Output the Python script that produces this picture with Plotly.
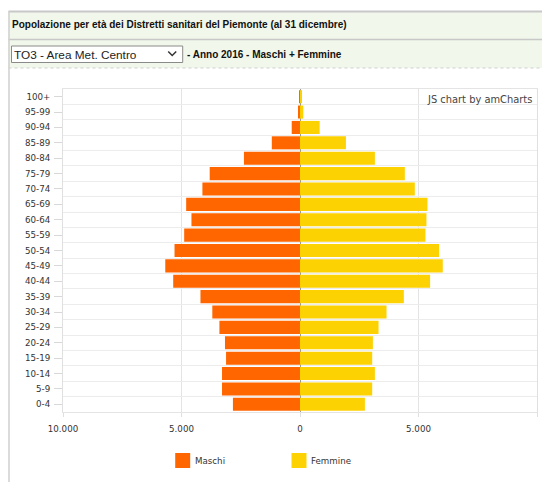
import plotly.graph_objects as go

# ---- data ----
eta = ["0-4", "5-9", "10-14", "15-19", "20-24", "25-29", "30-34", "35-39",
       "40-44", "45-49", "50-54", "55-59", "60-64", "65-69", "70-74",
       "75-79", "80-84", "85-89", "90-94", "95-99", "100+"]
maschi = [2830, 3290, 3290, 3120, 3165, 3400, 3700, 4200,
          5350, 5685, 5294, 4887, 4580, 4803, 4118,
          3810, 2365, 1190, 350, 55, 15]
femmine = [2738, 3047, 3160, 3047, 3075, 3314, 3651, 4381,
           5490, 6024, 5869, 5293, 5335, 5378, 4844,
           4423, 3160, 1938, 830, 140, 50]
x_tickvals = [-10000, -5000, 0, 5000, 10000]
x_ticktext = ["10.000", "5.000", "0", "5.000", "10.000"]
series_names = ["Maschi", "Femmine"]
colors = ["#FF6600", "#FCD202"]

# ---- geometry (screen pixels; page body has an 8px offset) ----
OFF = 8
Wfig, Hfig = 550 - OFF, 482 - OFF
Ls, Rs, Ts, Bs = 62.6, 537.4, 89, 412          # plot area in screen px
L, R, T, B = Ls - OFF, Rs - OFF, Ts - OFF, Bs - OFF
W, H = R - L, B - T


def xp(px):
    return (px - OFF - L) / W


def yp(py):
    return (B - (py - OFF)) / H


fig = go.Figure()
fig.add_trace(go.Bar(y=eta, x=[-v for v in maschi], orientation="h",
                     name=series_names[0], marker=dict(color=colors[0], line=dict(width=0)),
                     customdata=maschi, hovertemplate="%{y}: %{customdata}<extra>Maschi</extra>"))
fig.add_trace(go.Bar(y=eta, x=femmine, orientation="h",
                     name=series_names[1], marker=dict(color=colors[1], line=dict(width=0)),
                     hovertemplate="%{y}: %{x}<extra>Femmine</extra>"))
# invisible trace to carry the tick-only overlay axis
fig.add_trace(go.Scatter(y=eta, x=[0] * len(eta), yaxis="y2", mode="markers",
                         marker=dict(opacity=0), showlegend=False, hoverinfo="skip"))

chart_font = "DejaVu Sans"
head_font = "Liberation Sans"

fig.update_layout(
    width=Wfig, height=Hfig,
    margin=dict(l=L, r=Wfig - R, t=T, b=Hfig - B, pad=0),
    paper_bgcolor="white", plot_bgcolor="white",
    barmode="relative", bargap=0.15,
    showlegend=False,
    font=dict(family=chart_font, size=8.5, color="#333333"),
    xaxis=dict(range=[-10000, 10000], tickvals=x_tickvals, ticktext=x_ticktext,
               showgrid=True, gridcolor="#e4e4e4", gridwidth=1,
               zeroline=True, zerolinecolor="#a09a8a", zerolinewidth=1,
               showline=True, linecolor="#e4e4e4", mirror=True,
               ticks="outside", ticklen=4, tickcolor="#e0e0e0",
               tickfont=dict(family=chart_font, size=8.7, color="#333333"),
               ticklabelstandoff=5,
               layer="above traces", fixedrange=True),
    yaxis=dict(type="category", categoryorder="array", categoryarray=eta,
               range=[-0.5, len(eta) - 0.5],
               tickson="boundaries", showgrid=True, gridcolor="#ececec",
               ticks="", showline=True, linecolor="#e0e0e0", mirror=True,
               tickfont=dict(family=chart_font, size=8.7, color="#333333"),
               ticklabelstandoff=10, fixedrange=True),
    yaxis2=dict(type="category", categoryorder="array", categoryarray=eta,
                range=[-0.5, len(eta) - 0.5], overlaying="y", side="left",
                showgrid=False, showticklabels=False, ticks="outside",
                ticklen=8, tickcolor="#d8d8d8", showline=False, fixedrange=True),
)

shapes = [
    # header panel
    dict(type="rect", xref="paper", yref="paper", x0=xp(8), x1=xp(560), y0=yp(68), y1=yp(11),
         fillcolor="#f1f7ea", line=dict(width=0), layer="below"),
    dict(type="line", xref="paper", yref="paper", x0=xp(8), x1=xp(560), y0=yp(11.5), y1=yp(11.5),
         line=dict(color="#c8c8c8", width=2)),
    dict(type="line", xref="paper", yref="paper", x0=xp(8), x1=xp(560), y0=yp(39.5), y1=yp(39.5),
         line=dict(color="#c8c8c8", width=1.5)),
    dict(type="line", xref="paper", yref="paper", x0=xp(8), x1=xp(560), y0=yp(68), y1=yp(68),
         line=dict(color="#d0d0d0", width=1, dash="dot")),
    # left page border
    dict(type="line", xref="paper", yref="paper", x0=xp(8.5), x1=xp(8.5), y0=yp(11), y1=yp(490),
         line=dict(color="#d0d0d0", width=1.5)),
    # dropdown box
    dict(type="rect", xref="paper", yref="paper", x0=xp(11), x1=xp(182.5), y0=yp(62.5), y1=yp(46),
         fillcolor="white", line=dict(color="#8a8a8a", width=1)),
    dict(type="path", xref="paper", yref="paper",
         path="M {} {} L {} {} L {} {}".format(xp(168), yp(51.5), xp(172), yp(55.5), xp(176), yp(51.5)),
         line=dict(color="#333333", width=1.5)),
    # legend swatches
    dict(type="rect", xref="paper", yref="paper", x0=xp(175), x1=xp(190), y0=yp(468), y1=yp(453),
         fillcolor=colors[0], line=dict(width=0)),
    dict(type="rect", xref="paper", yref="paper", x0=xp(291.5), x1=xp(306.5), y0=yp(468), y1=yp(453),
         fillcolor=colors[1], line=dict(width=0)),
]
fig.update_layout(shapes=shapes)

annotations = [
    dict(text="<b>Popolazione per età dei Distretti sanitari del Piemonte (al 31 dicembre)</b>",
         x=xp(10), y=yp(25), xanchor="left", yanchor="middle",
         font=dict(family=head_font, size=10, color="#111111")),
    dict(text="TO3 - Area Met. Centro", x=xp(12), y=yp(54.5), xanchor="left", yanchor="middle",
         font=dict(family=head_font, size=11.8, color="#222222")),
    dict(text="<b>- Anno 2016 - Maschi + Femmine</b>", x=xp(185), y=yp(54.5), xanchor="left",
         yanchor="middle", font=dict(family=head_font, size=10, color="#111111")),
    dict(text="JS chart by amCharts", x=xp(534), y=yp(100), xanchor="right", yanchor="middle",
         font=dict(family=chart_font, size=9.9, color="#444444")),
    dict(text=series_names[0], x=xp(193), y=yp(461), xanchor="left", yanchor="middle",
         font=dict(family=chart_font, size=8.7, color="#333333")),
    dict(text=series_names[1], x=xp(309), y=yp(461), xanchor="left", yanchor="middle",
         font=dict(family=chart_font, size=8.7, color="#333333")),
]
for a in annotations:
    a.update(xref="paper", yref="paper", showarrow=False)
fig.update_layout(annotations=annotations)

fig.write_html("out.html")
